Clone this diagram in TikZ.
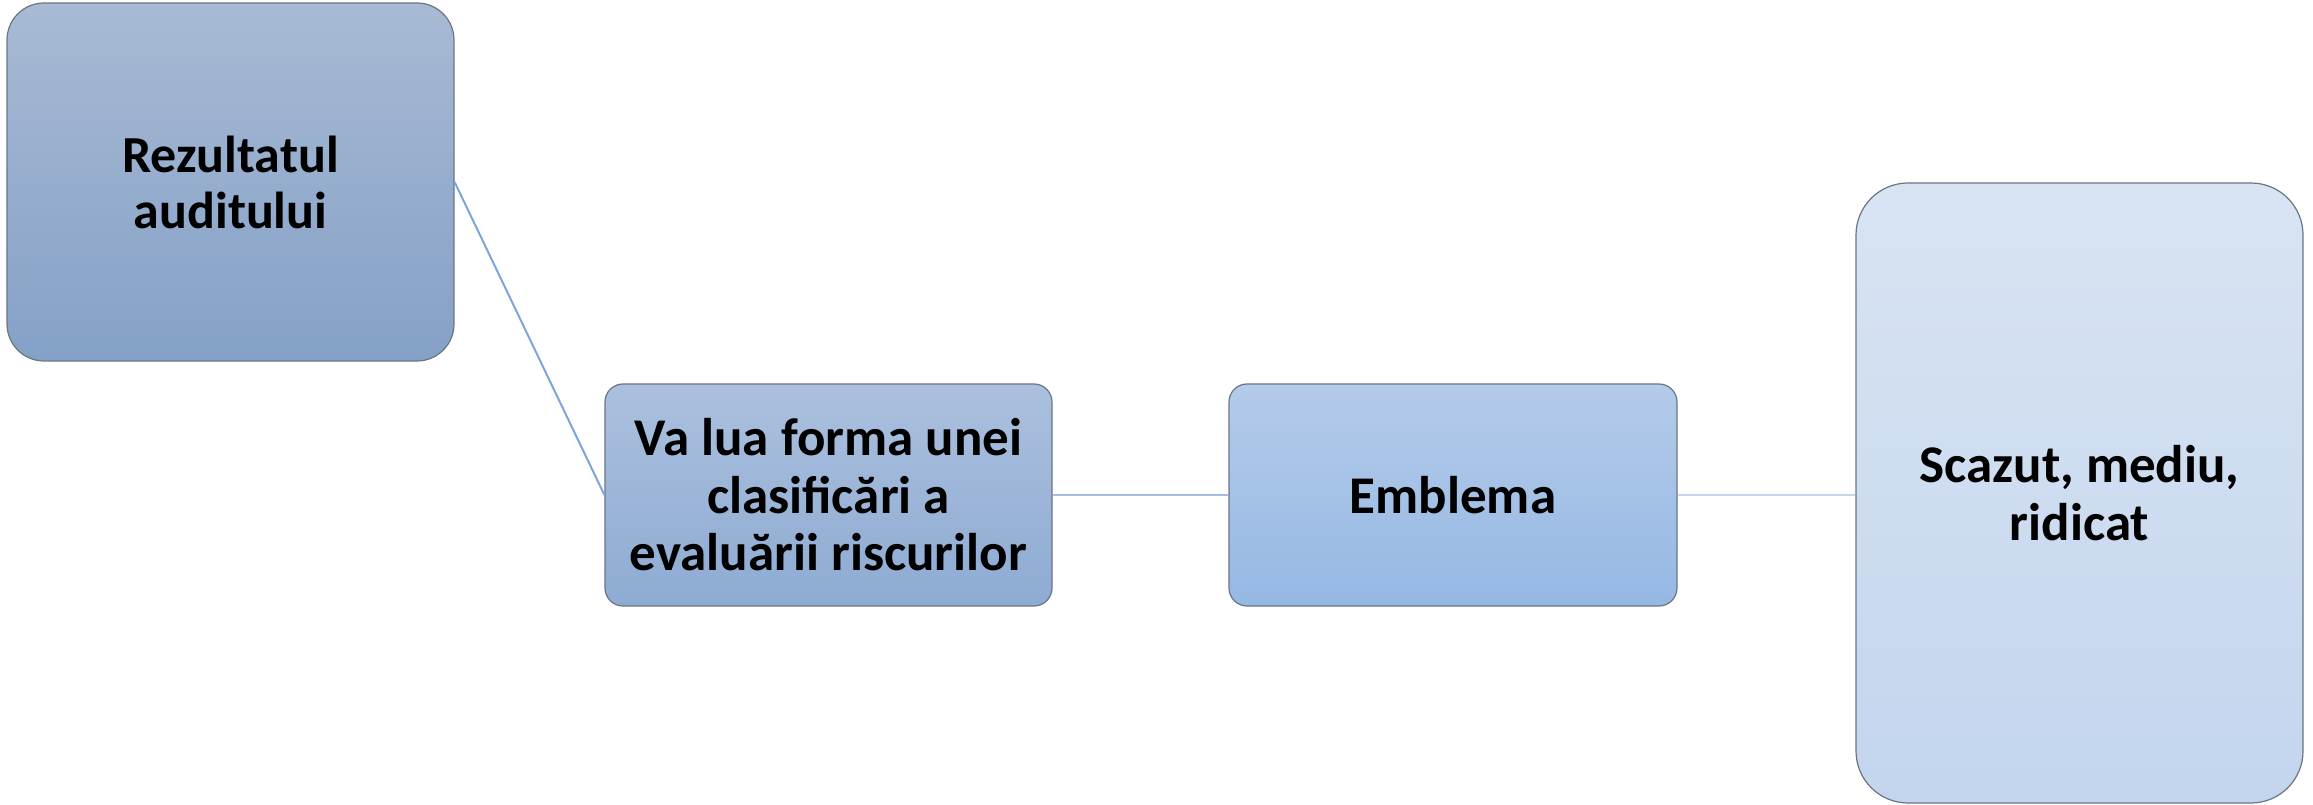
\documentclass[tikz,border=0pt]{standalone}
\usepackage{fontspec}
\setmainfont{Carlito}
\definecolor{bordc}{HTML}{6A7584}
\definecolor{aTop}{HTML}{A8BAD4}
\definecolor{aBot}{HTML}{84A1C7}
\definecolor{bTop}{HTML}{ABC0DE}
\definecolor{bBot}{HTML}{8EABD2}
\definecolor{cTop}{HTML}{B4CBEA}
\definecolor{cBot}{HTML}{95B8E3}
\definecolor{dTop}{HTML}{D9E4F3}
\definecolor{dBot}{HTML}{C3D5EE}
\definecolor{lnA}{HTML}{7DA5DA}
\definecolor{lnB}{HTML}{A3BEE2}
\definecolor{lnC}{HTML}{C6D6EB}
\tikzset{
  boxbase/.style={draw=bordc, line width=1.2pt, align=center, inner sep=0pt,
    font=\fontsize{53}{57.5}\selectfont\bfseries, text=black},
  firsttext/.style={font=\fontsize{52}{56}\selectfont\bfseries},
}
\begin{document}
\begin{tikzpicture}[x=1pt,y=1pt]
\useasboundingbox (0,0) rectangle (2313,804);
\node[boxbase, firsttext, rounded corners=37pt, top color=aTop, bottom color=aBot,
  minimum width=447pt, minimum height=358pt] (a) at (230.5,622) {Rezultatul\\auditului};
\node[boxbase, rounded corners=18pt, top color=bTop, bottom color=bBot,
  minimum width=447pt, minimum height=222pt] (b) at (828.5,309) {Va lua forma unei\\clasificări a\\evaluării riscurilor};
\node[boxbase, rounded corners=18pt, top color=cTop, bottom color=cBot,
  minimum width=448pt, minimum height=222pt] (c) at (1453,309) {Emblema};
\node[boxbase, rounded corners=52pt, top color=dTop, bottom color=dBot,
  minimum width=447pt, minimum height=620pt] (d) at (2079.5,311) {Scazut, mediu,\\ridicat};
\draw[lnA, line width=2pt] (a.east) -- (b.west);
\draw[lnB, line width=2pt] (b.east) -- (c.west);
\draw[lnC, line width=2pt] (c.east) -- (c.east -| d.west);
\end{tikzpicture}
\end{document}
